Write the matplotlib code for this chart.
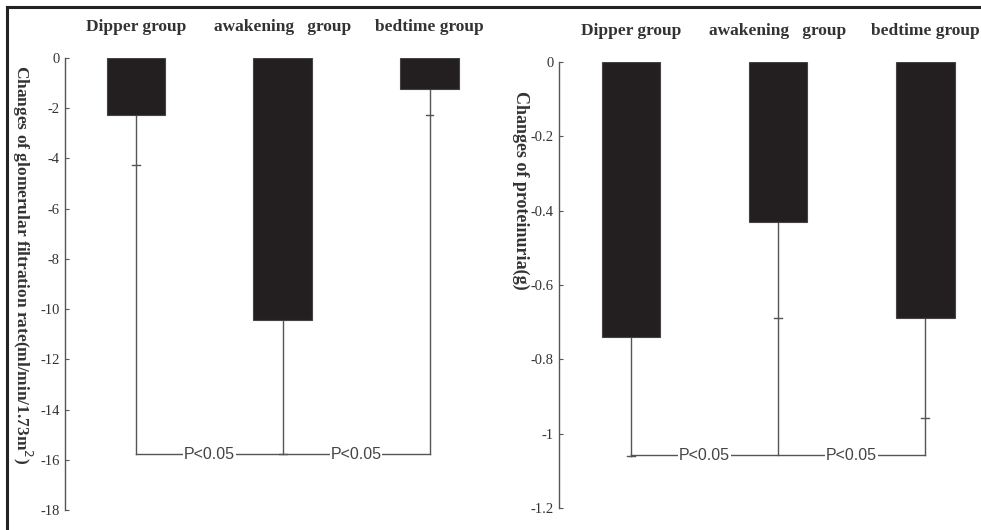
#!/usr/bin/env python3
"""Changes of GFR and proteinuria by group, two bar panels with P brackets."""

import matplotlib
matplotlib.use('Agg')
import matplotlib.pyplot as plt
from matplotlib.lines import Line2D

groups = ['Dipper group', 'awakening   group', 'bedtime group']

gfr_mean = [-2.25, -10.43, -1.23]
gfr_err_low = [-4.26, -15.77, -2.27]
gfr_bracket = -15.77
gfr_ticks = [0, -2, -4, -6, -8, -10, -12, -14, -16, -18]

prot_mean = [-0.74, -0.43, -0.69]
prot_err_low = [-1.06, -0.69, -0.958]
prot_bracket = -1.058
prot_ticks = [0, -0.2, -0.4, -0.6, -0.8, -1, -1.2]
prot_ticklabels = ['0', '-0.2', '-0.4', '-0.6', '-0.8', '-1', '-1.2']

p_label = 'P<0.05'

W, H = 981, 530
BAR_COLOR = '#231f20'
LINE_COLOR = '#555555'
SERIF = 'Liberation Serif'


def fig_box(x0, y_top, x1, y_bot):
    """Pixel box -> figure fraction rect."""
    return [x0 / W, 1 - y_bot / H, (x1 - x0) / W, (y_bot - y_top) / H]


def draw_panel(ax, means, err_low, bracket, ylim, ticks, ticklabels):
    x = list(range(len(means)))
    ax.bar(x, means, width=0.40, color=BAR_COLOR, edgecolor='#444444', linewidth=0.8, zorder=2)

    # error whiskers (downwards only) with small caps
    for xi, m, lo in zip(x, means, err_low):
        ax.plot([xi, xi], [m, lo], color=LINE_COLOR, lw=1.0, zorder=1)
        ax.plot([xi - 0.025, xi + 0.025], [lo, lo], color=LINE_COLOR, lw=1.0, zorder=1)
        # bracket drop
        ax.plot([xi, xi], [lo, bracket], color=LINE_COLOR, lw=1.0, zorder=1)

    ax.plot([x[0], x[-1]], [bracket, bracket], color=LINE_COLOR, lw=1.0, zorder=1)
    for a, b in zip(x[:-1], x[1:]):
        ax.text((a + b) / 2, bracket, p_label, ha='center', va='center',
                fontsize=11.5, family='Liberation Sans', color='#444444',
                bbox=dict(facecolor='white', edgecolor='none', pad=0.5), zorder=3)

    ax.set_ylim(*ylim)
    ax.set_yticks(ticks)
    ax.set_yticklabels(ticklabels, family=SERIF, fontsize=10.5, color='#333333')
    ax.tick_params(axis='y', direction='in', length=3, pad=4, color=LINE_COLOR)
    ax.set_xticks([])
    for side in ('top', 'right', 'bottom'):
        ax.spines[side].set_visible(False)
    ax.spines['left'].set_color(LINE_COLOR)
    ax.spines['left'].set_linewidth(1.0)
    ax.patch.set_visible(False)

    for xi, g in zip(x, groups):
        ax.text(xi, 1 + 31 / 452, g, transform=ax.get_xaxis_transform(),
                ha='center', va='center', fontsize=12.5, family=SERIF,
                fontweight='bold', color='#333333')


fig = plt.figure(figsize=(W / 100, H / 100), dpi=100)

ax1 = fig.add_axes(fig_box(65, 58, 490, 510))
ax1.set_xlim(-0.483, 2.41)
draw_panel(ax1, gfr_mean, gfr_err_low, gfr_bracket, (-18, 0),
           gfr_ticks, [str(t) for t in gfr_ticks])

ax2 = fig.add_axes(fig_box(559, 62, 981, 508))
ax2.set_xlim(-0.49, 2.38)
draw_panel(ax2, prot_mean, prot_err_low, prot_bracket, (-1.2, 0),
           prot_ticks, prot_ticklabels)

fig.text(22 / W, 1 - 265 / H, 'Changes of glomerular filtration rate(ml/min/1.73m$^2$)',
         rotation=270, ha='center', va='center', fontsize=12.5, family=SERIF,
         fontweight='bold', color='#333333')
fig.text(521 / W, 1 - 190 / H, 'Changes of proteinuria(g)',
         rotation=270, ha='center', va='center', fontsize=13, family=SERIF,
         fontweight='bold', color='#333333')

# frame around the figure (top and left edges visible)
fig.add_artist(Line2D([7 / W, 7 / W], [0, 1 - 7 / H], transform=fig.transFigure,
                      color='#222222', lw=2.2))
fig.add_artist(Line2D([7 / W, 1], [1 - 7 / H, 1 - 7 / H], transform=fig.transFigure,
                      color='#222222', lw=2.2))

fig.savefig('out.png', dpi=100)
print("Saved: out.png")
